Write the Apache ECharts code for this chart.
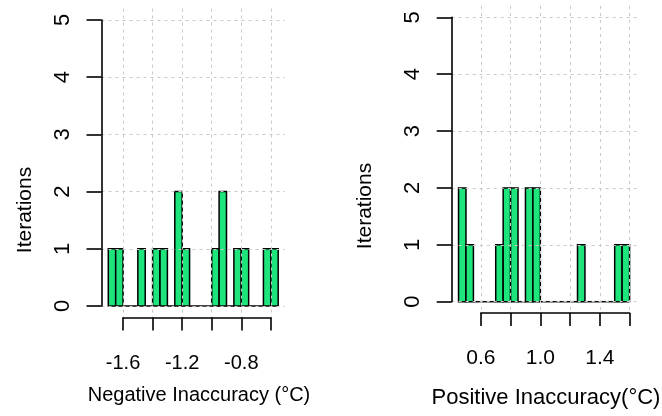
<!DOCTYPE html>
<html><head><meta charset="utf-8">
<script src="https://cdn.jsdelivr.net/npm/echarts@6/dist/echarts.min.js"></script>
<style>html,body{margin:0;padding:0;background:#fff}#c{width:662px;height:416px}</style>
</head><body><div id="c"></div>
<script>
// ---- data ----
const negBreaks = [-1.70,-1.65,-1.60,-1.55,-1.50,-1.45,-1.40,-1.35,-1.30,-1.25,-1.20,-1.15,-1.10,-1.05,-1.00,-0.95,-0.90,-0.85,-0.80,-0.75,-0.70,-0.65,-0.60,-0.55];
const negCounts = [1,1,0,0,1,0,1,1,0,2,1,0,0,0,1,2,0,1,1,0,0,1,1];
const posBreaks = [0.45,0.50,0.55,0.60,0.65,0.70,0.75,0.80,0.85,0.90,0.95,1.00,1.05,1.10,1.15,1.20,1.25,1.30,1.35,1.40,1.45,1.50,1.55,1.60];
const posCounts = [2,1,0,0,0,1,2,2,0,2,2,0,0,0,0,0,1,0,0,0,0,1,1];
const negTicks = [-1.6,-1.4,-1.2,-1.0,-0.8,-0.6];
const negTickLabels = ['-1.6','-1.2','-0.8'];
const posTicks = [0.6,0.8,1.0,1.2,1.4,1.6];
const posTickLabels = ['0.6','1.0','1.4'];
const yTicks = [0,1,2,3,4,5];
const yTitle = 'Iterations';
const negTitle = 'Negative Inaccuracy (°C)';
const posTitle = 'Positive Inaccuracy(°C)';

// ---- layout / style ----
const FONT = 'Liberation Sans, Arial, sans-serif';
const GREEN = '#1EE57B';
const panels = [
  {breaks:negBreaks, counts:negCounts, ticks:negTicks, labels:negTickLabels, title:negTitle,
   left:101.5, right:285, y0:306, y5:20, axisY:320, titleX:199, titleY:395, ytX:25, ytY:210,
   fs:20, tfs:20, xMargin:33, yMargin:28},
  {breaks:posBreaks, counts:posCounts, ticks:posTicks, labels:posTickLabels, title:posTitle,
   left:451.7, right:636.4, y0:301.7, y5:17.3, axisY:313, titleX:546, titleY:398, ytX:365, ytY:206,
   fs:21, tfs:22, xMargin:35, yMargin:28}
];

const grids=[], xAxes=[], yAxes=[], series=[], graphics=[];
panels.forEach((p, k) => {
  const b0 = p.breaks[0], bN = p.breaks[p.breaks.length-1];
  const ext = 0.04*(bN-b0);
  const xmin = b0-ext, xmax = bN+ext;
  const W = p.right-p.left;
  const xpx = v => p.left + (v-xmin)/(xmax-xmin)*W;
  const yMax = yTicks[yTicks.length-1], yMin = yTicks[0];
  const unit = (p.y0-p.y5)/(yMax-yMin);
  const yext = 0.04*(yMax-yMin);
  const T = p.y5 - yext*unit, B = p.y0 + yext*unit;
  const gi = grids.length;
  grids.push({left:p.left, top:T, width:W, height:B-T});
  const tx0 = xpx(p.ticks[0]), tx1 = xpx(p.ticks[p.ticks.length-1]);
  grids.push({left:tx0, top:T, width:tx1-tx0, height:B-T});
  grids.push({left:p.left, top:p.y5, width:W, height:p.y0-p.y5});
  const split = {show:true, lineStyle:{color:'#C8C8C8', type:[3,4], width:1}};
  xAxes.push({type:'value', gridIndex:gi, min:xmin, max:xmax, show:false});
  xAxes.push({type:'value', gridIndex:gi+1, position:'bottom', offset:p.axisY-B, z:10,
    min:p.ticks[0], max:p.ticks[p.ticks.length-1], interval:+(p.ticks[1]-p.ticks[0]).toFixed(6),
    axisLine:{show:true, lineStyle:{color:'#000', width:1.6}},
    axisTick:{show:true, inside:false, length:13, lineStyle:{color:'#000', width:1.6}},
    axisLabel:{show:true, margin:p.xMargin, color:'#000', fontSize:p.fs, fontFamily:FONT,
      formatter: v => { const s = (Math.round(v*10)/10).toFixed(1); return p.labels.includes(s) ? s : ''; }},
    splitLine:split});
  xAxes.push({type:'value', gridIndex:gi+2, min:xmin, max:xmax, show:false});
  yAxes.push({type:'value', gridIndex:gi, min:yMin-yext, max:yMax+yext, show:false});
  yAxes.push({type:'value', gridIndex:gi+1, min:0, max:1, show:false});
  yAxes.push({type:'value', gridIndex:gi+2, position:'left', z:10, min:yMin, max:yMax, interval:1,
    axisLine:{show:true, lineStyle:{color:'#000', width:1.6}},
    axisTick:{show:true, inside:false, length:15, lineStyle:{color:'#000', width:1.6}},
    axisLabel:{show:true, rotate:90, margin:p.yMargin, color:'#000', fontSize:22, fontFamily:FONT},
    splitLine:split});
  series.push({type:'custom', xAxisIndex:gi, yAxisIndex:gi, z:2,
    encode:{x:[0,1], y:2},
    data:p.counts.map((c,i)=>[p.breaks[i], p.breaks[i+1], c]),
    renderItem(params, api){
      const x0=api.value(0), x1=api.value(1), c=api.value(2);
      const a=api.coord([x0,c]), b=api.coord([x1,0]);
      if (c>0) return {type:'rect', shape:{x:a[0], y:a[1], width:b[0]-a[0], height:b[1]-a[1]},
        style:{fill:GREEN, stroke:'#000', lineWidth:1.5}};
      return {type:'line', shape:{x1:a[0], y1:b[1], x2:b[0], y2:b[1]}, style:{stroke:'#000', lineWidth:1.5}};
    }});
  graphics.push({type:'text', x:p.titleX, y:p.titleY, z:20,
    style:{text:p.title, fill:'#000', font:p.tfs+'px '+FONT, align:'center', verticalAlign:'middle'}});
  graphics.push({type:'text', x:p.ytX, y:p.ytY, rotation:Math.PI/2, z:20,
    style:{text:yTitle, fill:'#000', font:'21px '+FONT, align:'center', verticalAlign:'middle'}});
});

const chart = echarts.init(document.getElementById('c'), null, {renderer:'canvas'});
chart.setOption({
  animation:false,
  backgroundColor:'#fff',
  textStyle:{fontFamily:FONT},
  grid:grids, xAxis:xAxes, yAxis:yAxes, series:series, graphic:graphics
});
</script></body></html>
